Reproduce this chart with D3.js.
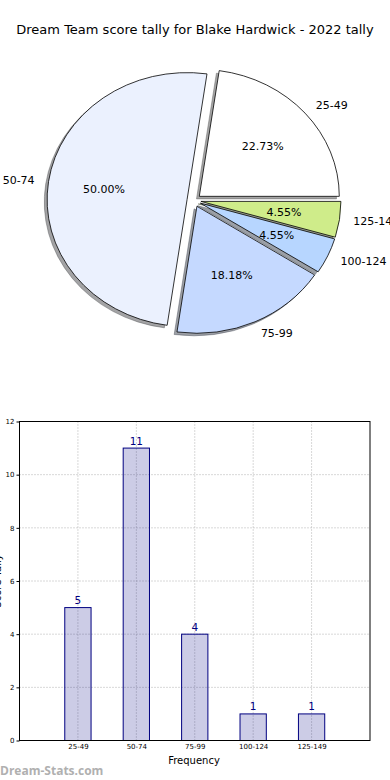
<!DOCTYPE html>
<html><head><meta charset="utf-8">
<script src="https://cdn.jsdelivr.net/npm/d3@7"></script>
<style>
html,body{margin:0;padding:0;background:#fff;}
svg{display:block;font-family:"DejaVu Sans",sans-serif;}
</style></head>
<body>
<svg id="c" width="390" height="780"></svg>
<script>
const title = "Dream Team score tally for Blake Hardwick - 2022 tally";
const categories = ["25-49","50-74","75-99","100-124","125-149"];
const counts = [5, 11, 4, 1, 1];
const pieColors = ["#ffffff","#ebf1fe","#c5d9ff","#b7d6ff","#cfec8a"];
const yTicks = [0,2,4,6,8,10,12];
const xLabel = "Frequency";
const yLabel = "Score Tally";
const watermark = "Dream-Stats.com";

const svg = d3.select("#c");

// Title
svg.append("text").attr("x",195).attr("y",34).attr("text-anchor","middle")
  .attr("font-size",13).attr("fill","#000").text(title);

// ---------- Pie ----------
const cx = 194, cy = 200.5, rx = 140, ry = 127, explode = 0.05;
const pie = d3.pie().sort(null).startAngle(0).endAngle(2*Math.PI);
const arcs = pie(counts);
const total = d3.sum(counts);
function pt(ox, oy, t, k){ return [ox + k*rx*Math.cos(t), oy - k*ry*Math.sin(t)]; }
function wedgePath(a, ox, oy){
  const p1 = pt(ox,oy,a.startAngle,1), p2 = pt(ox,oy,a.endAngle,1);
  const large = (a.endAngle - a.startAngle) > Math.PI ? 1 : 0;
  return `M${ox},${oy}L${p1[0]},${p1[1]}A${rx},${ry} 0 ${large} 0 ${p2[0]},${p2[1]}Z`;
}
const pieG = svg.append("g");
const wedges = arcs.map((a,i)=>{
  const m = (a.startAngle + a.endAngle)/2;
  const ox = cx + explode*rx*Math.cos(m), oy = cy - explode*ry*Math.sin(m);
  return {a, i, m, ox, oy};
});
// shadows
wedges.forEach(w=>{
  const c = d3.rgb(pieColors[w.i]);
  const dark = d3.rgb(c.r*0.3, c.g*0.3, c.b*0.3);
  pieG.append("path").attr("d", wedgePath(w.a, w.ox - 0.02*rx, w.oy + 0.02*ry))
    .attr("fill", dark).attr("fill-opacity",0.5)
    .attr("stroke", dark).attr("stroke-opacity",0.5).attr("stroke-width",0.8);
});
// wedges
wedges.forEach(w=>{
  pieG.append("path").attr("d", wedgePath(w.a, w.ox, w.oy))
    .attr("fill", pieColors[w.i]).attr("stroke","#000").attr("stroke-width",0.8)
    .attr("stroke-linejoin","round");
});
// labels
wedges.forEach(w=>{
  const lp = pt(w.ox, w.oy, w.m, 1.1);
  svg.append("text").attr("x", lp[0]).attr("y", lp[1]).attr("dy","0.35em")
    .attr("text-anchor", Math.cos(w.m) > 0 ? "start" : "end")
    .attr("font-size",11).attr("fill","#000").text(categories[w.i]);
  const pp = pt(w.ox, w.oy, w.m, 0.6);
  svg.append("text").attr("x", pp[0]).attr("y", pp[1]).attr("dy","0.35em")
    .attr("text-anchor","middle").attr("font-size",11).attr("fill","#000")
    .text((100*counts[w.i]/total).toFixed(2) + "%");
});

// ---------- Bar chart ----------
const bx0 = 19.5, bx1 = 370, by0 = 421.5, by1 = 740.5;
const x = d3.scaleLinear().domain([-1, 5]).range([bx0, bx1]);
const y = d3.scaleLinear().domain([0, 12]).range([by1, by0]);
const barW = x(0.45) - x(0);
const bg = svg.append("g");
// grid
bg.selectAll(".gy").data(yTicks.slice(1,-1)).join("line")
  .attr("x1",bx0).attr("x2",bx1).attr("y1",d=>y(d)).attr("y2",d=>y(d))
  .attr("stroke","#b0b0b0").attr("stroke-width",1).attr("stroke-dasharray","1,2");
bg.selectAll(".gx").data(categories).join("line")
  .attr("x1",(d,i)=>x(i)).attr("x2",(d,i)=>x(i)).attr("y1",by0).attr("y2",by1)
  .attr("stroke","#b0b0b0").attr("stroke-width",1).attr("stroke-dasharray","1,2");
// bars
bg.selectAll(".bar").data(counts).join("rect")
  .attr("x",(d,i)=>x(i)-barW/2).attr("y",d=>y(d))
  .attr("width",barW).attr("height",d=>by1-y(d))
  .attr("fill","#000080").attr("fill-opacity",0.2)
  .attr("stroke","#000080").attr("stroke-width",1);
// value labels
bg.selectAll(".vl").data(counts).join("text")
  .attr("x",(d,i)=>x(i)).attr("y",d=>y(d)-3.5).attr("text-anchor","middle")
  .attr("font-size",10.5).attr("fill","#000080").text(d=>d);
// frame
bg.append("rect").attr("x",bx0).attr("y",by0).attr("width",bx1-bx0).attr("height",by1-by0)
  .attr("fill","none").attr("stroke","#000").attr("stroke-width",1);
// y axis ticks
const yAxis = d3.axisLeft(y).tickValues(yTicks).tickSize(3).tickPadding(2);
const ya = svg.append("g").attr("transform",`translate(${bx0},0)`).call(yAxis);
ya.select(".domain").remove();
ya.selectAll("text").attr("font-size",7).attr("font-family","DejaVu Sans, sans-serif").attr("fill","#000");
ya.selectAll("line").attr("stroke","#000");
// x axis
const xAxis = d3.axisBottom(x).tickValues(d3.range(categories.length)).tickFormat(i=>categories[i]).tickSize(0).tickPadding(4);
const xa = svg.append("g").attr("transform",`translate(0,${by1})`).call(xAxis);
xa.select(".domain").remove();
xa.selectAll("text").attr("font-size",7).attr("font-family","DejaVu Sans, sans-serif").attr("fill","#000");
// labels
svg.append("text").attr("x",194).attr("y",764).attr("text-anchor","middle")
  .attr("font-size",10).attr("fill","#000").text(xLabel);
svg.append("text").attr("transform","translate(1,581) rotate(-90)").attr("text-anchor","middle")
  .attr("font-size",10).attr("fill","#000").text(yLabel);
// watermark
svg.append("text").attr("x",0).attr("y",775).attr("font-size",12).attr("font-weight","bold")
  .attr("fill","#b0b0b0").attr("font-family","'Open Sans', sans-serif").text(watermark);
</script>
</body></html>
